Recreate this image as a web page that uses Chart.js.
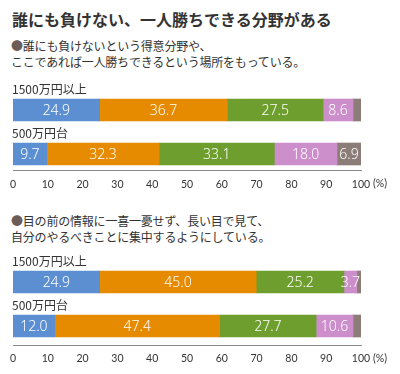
<!DOCTYPE html>
<html lang="ja">
<head>
<meta charset="utf-8">
<script src="https://cdn.jsdelivr.net/npm/chart.js@4.4.1/dist/chart.umd.min.js"></script>
<style>
  body { margin: 0; width: 400px; height: 374px; background: #fff; position: relative; overflow: hidden;
    font-family: "Noto Sans CJK JP", "Noto Sans", sans-serif; color: #333; }
  .title { position: absolute; left: 12px; top: 8px; font-size: 16px; font-weight: bold; line-height: 22px; letter-spacing: 0; }
  .q { position: absolute; left: 11px; font-size: 12px; line-height: 16px; letter-spacing: -0.2px; }
  .q .dot { color: #6b5c57; }
  canvas { position: absolute; left: 0; }
</style>
</head>
<body>
<div class="title">誰にも負けない、一人勝ちできる分野がある</div>
<div class="q" style="top:38px"><span class="dot">●</span>誰にも負けないという得意分野や、<br>ここであれば一人勝ちできるという場所をもっている。</div>
<canvas id="chart1" width="400" height="112" style="top:80px"></canvas>
<div class="q" style="top:213px"><span class="dot">●</span>目の前の情報に一喜一憂せず、長い目で見て、<br>自分のやるべきことに集中するようにしている。</div>
<canvas id="chart2" width="400" height="122" style="top:252px"></canvas>
<script>
const categories = ["1500万円以上", "500万円台"];
const colors = ["#5b8fd2", "#e68a00", "#6e9e2e", "#cc8fcb", "#8c7d78"];
const ticks = [0, 10, 20, 30, 40, 50, 60, 70, 80, 90, 100];

// 誰にも負けない得意分野
const q1a = [24.9, 9.7];
const q1b = [36.7, 32.3];
const q1c = [27.5, 33.1];
const q1d = [8.6, 18.0];
const q1e = [2.3, 6.9];

// 長い目で見る
const q2a = [24.9, 12.0];
const q2b = [45.0, 47.4];
const q2c = [25.2, 27.7];
const q2d = [3.7, 10.6];
const q2e = [1.2, 2.3];

// labels inside the bar segments + category names above the bars
const barText = {
  id: "barText",
  afterDatasetsDraw(chart) {
    const ctx = chart.ctx;
    ctx.save();
    ctx.fillStyle = "#fff";
    ctx.font = "300 14px 'Noto Sans', sans-serif";
    ctx.textAlign = "center";
    ctx.textBaseline = "middle";
    chart.data.datasets.forEach((ds, i) => {
      chart.getDatasetMeta(i).data.forEach((bar, j) => {
        const v = ds.data[j];
        if (v < 3) return;
        ctx.fillText(v.toFixed(1), (bar.x + bar.base) / 2, bar.y + 1);
      });
    });
    ctx.restore();
  },
  afterDraw(chart, args, opts) {
    const ctx = chart.ctx;
    const y = chart.scales.y, x = chart.scales.x;
    ctx.save();
    ctx.fillStyle = "#333";
    ctx.font = "12px 'Noto Sans CJK JP', sans-serif";
    ctx.textAlign = "left";
    ctx.textBaseline = "middle";
    chart.data.labels.forEach((lab, i) => {
      ctx.fillText(lab, chart.chartArea.left - 1, y.getPixelForValue(i) - 21);
    });
    ctx.font = "10.5px 'Lato', sans-serif";
    ctx.fillText("(%)", x.getPixelForValue(100) + 12, y.getPixelForValue(opts.axisAt) + 13);
    ctx.restore();
  }
};

function makeChart(id, series, axisAt, bottom) {
  return new Chart(document.getElementById(id), {
    type: "bar",
    data: {
      labels: categories,
      datasets: series.map((d, i) => ({ data: d, backgroundColor: colors[i], barThickness: 22 }))
    },
    options: {
      indexAxis: "y",
      responsive: false,
      animation: false,
      layout: { padding: { left: 13, right: 39, top: 8, bottom: bottom } },
      plugins: { legend: { display: false }, tooltip: { enabled: false }, barText: { axisAt: axisAt } },
      scales: {
        y: { stacked: true, display: false },
        x: {
          stacked: true, min: 0, max: 100,
          position: { y: axisAt },
          afterBuildTicks: (s) => { s.ticks = ticks.map(v => ({ value: v })); },
          grid: { display: false, drawTicks: false },
          border: { display: true, color: "#8a8a8a", width: 1 },
          ticks: { padding: 7, color: "#333", font: { family: "Lato", size: 10.5 } }
        }
      }
    },
    plugins: [barText]
  });
}

makeChart("chart1", [q1a, q1b, q1c, q1d, q1e], 1.386, 16);
makeChart("chart2", [q2a, q2b, q2c, q2d, q2e], 1.45, 26);
</script>
</body>
</html>
